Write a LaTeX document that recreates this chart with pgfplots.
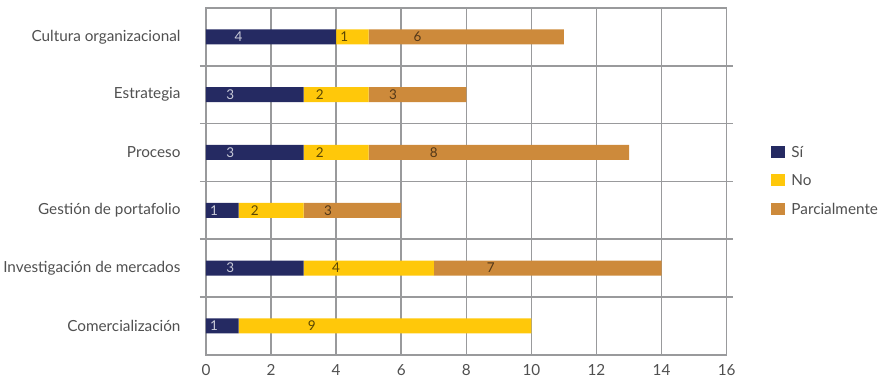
\documentclass[border=0pt]{standalone}
\usepackage{pgfplots}
\pgfplotsset{compat=1.18}
\usepackage{pgfplotstable}
\usepackage{fontspec}
\setmainfont{Lato}

\definecolor{si}{HTML}{252A62}
\definecolor{no}{HTML}{FFC80A}
\definecolor{parc}{HTML}{CD8A3B}
\definecolor{gridgray}{HTML}{999A9C}
\definecolor{txt}{HTML}{505050}

% rows from bottom (0) to top (5); l* columns hold the printed labels
\pgfplotstableread{
c si no parc lsi lno lparc
0 1 9 0 1 9 {}
1 3 4 7 3 4 7
2 1 2 3 1 2 3
3 3 2 8 3 2 8
4 3 2 3 3 2 3
5 4 1 6 4 1 6
}\datos

\begin{document}
\begin{tikzpicture}
\begin{axis}[
  scale only axis,
  width=521pt, height=347pt,
  xbar stacked,
  bar width=15pt,
  xmin=0, xmax=16,
  ymin=-0.5, ymax=5.5,
  xtick={0,2,...,16},
  ytick={0,...,5},
  yticklabels={Comercialización,Investigación de mercados,Gestión de portafolio,Proceso,Estrategia,Cultura organizacional},
  minor ytick={0.5,1.5,2.5,3.5,4.5},
  xmajorgrids, yminorgrids,
  major tick length=0pt,
  minor tick length=6pt,
  tick align=outside,
  grid style={gridgray, line width=1.6pt},
  axis line style={gridgray, line width=1.6pt},
  minor tick style={gridgray, line width=1.6pt},
  /pgf/number format/assume math mode=true,
  tick label style={font=\fontsize{15.3}{17}\selectfont, text=txt},
  yticklabel style={xshift=-22pt},
  xticklabel style={yshift=-6pt},
  legend style={draw=none, at={(1.08,0.5)}, anchor=west,
    font=\fontsize{15.3}{17}\selectfont, text=txt,
    row sep=12pt, /tikz/column sep=4pt, legend cell align=left},
  legend image code/.code={\fill[#1] (0pt,-5pt) rectangle (14pt,7pt);},
  point meta=explicit symbolic,
  nodes near coords,
  every node near coord/.append style={anchor=center,
    font=\fontsize{13.5}{15}\selectfont,
    shift={(axis direction cs:-\seg/4,0)}},
]
\addplot[fill=si, draw=none, visualization depends on={\thisrow{si} \as \seg},
  every node near coord/.append style={text=white!75!si}]
  table[x=si, y=c, meta=lsi] {\datos};
\addplot[fill=no, draw=none, visualization depends on={\thisrow{no} \as \seg},
  every node near coord/.append style={text=black!65!no}]
  table[x=no, y=c, meta=lno] {\datos};
\addplot[fill=parc, draw=none, visualization depends on={\thisrow{parc} \as \seg},
  every node near coord/.append style={text=black!60!parc}]
  table[x=parc, y=c, meta=lparc] {\datos};
\legend{Sí,No,Parcialmente}
\end{axis}
% white margin above the frame
\path ([yshift=8pt]current axis.north);
\end{tikzpicture}
\end{document}
